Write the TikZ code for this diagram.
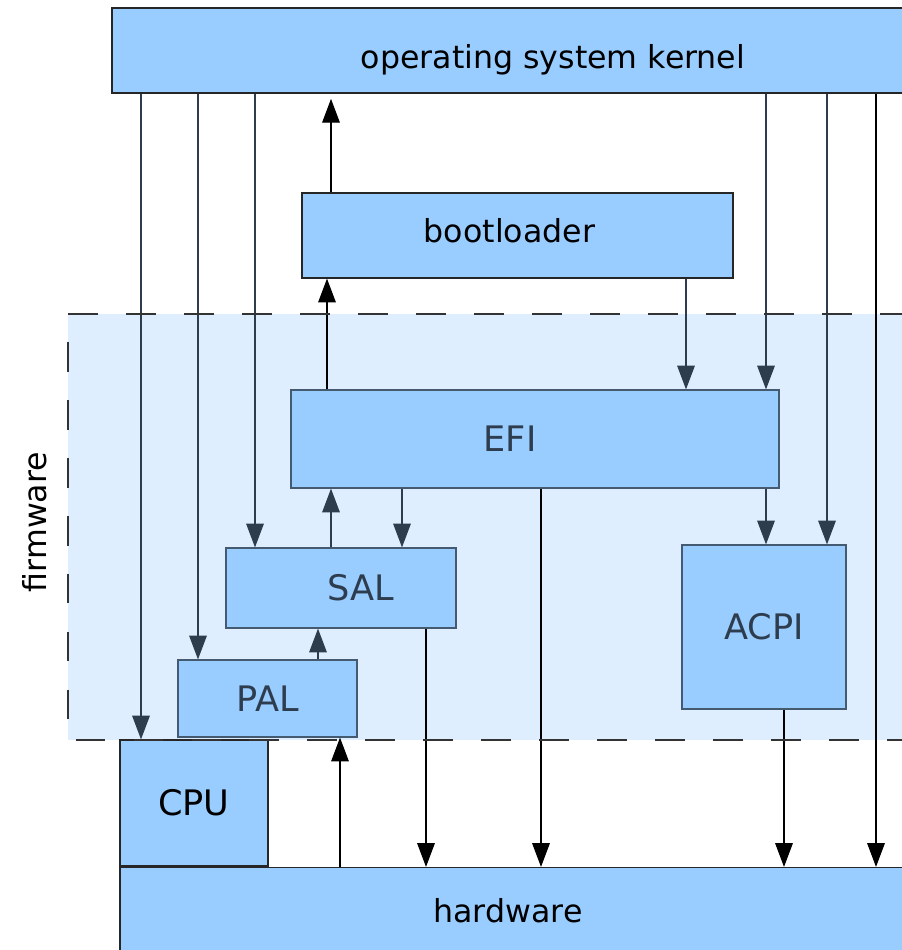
\documentclass[tikz,border=0pt]{standalone}
\usepackage{fontspec}
\setmainfont{DejaVu Sans}
\usetikzlibrary{arrows.meta}
\definecolor{bleu}{HTML}{99CCFF}
\definecolor{bleuclair}{HTML}{DFEEFF}
\definecolor{ardoise}{HTML}{2E3D4E}
\definecolor{bordfw}{HTML}{435A70}

\tikzset{bloc/.style={draw=#1,fill=bleu,line width=0.7pt,inner sep=0pt,font=\fontsize{18}{22}\selectfont},
bloc/.default={black!85},
blocfw/.style={bloc=bordfw,text=ardoise,font=\fontsize{20}{24}\selectfont},
etiq/.style={text=ardoise,font=\fontsize{20}{24}\selectfont},
etiqnoir/.style={font=\fontsize{18}{22}\selectfont},
fleche/.style={draw=#1,line width=0.65pt,-{Triangle[width=10pt,length=13.5pt]}},
fleche/.default={black}}

\begin{document}
\begin{tikzpicture}[x=0.02cm,y=-0.02cm]
\useasboundingbox (0,0) rectangle (902,950);
\clip (0,0) rectangle (902,950);
% zone du firmware
\fill[bleuclair] (68,314) rectangle (910,740);
\node[rotate=90,font=\fontsize{18}{22}\selectfont] (fw) at (35,522) {firmware};

\node[bloc,minimum width=17.64cm,minimum height=1.7cm,
	label={[etiqnoir,yshift=-0.18cm]center:operating system kernel}] (noyau) at (553,50.5) {};
\node[bloc,minimum width=8.62cm,minimum height=1.7cm,
	label={[etiqnoir,xshift=-0.16cm,yshift=0.1cm]center:bootloader}] (boot) at (517.5,235.5) {};
\node[blocfw,minimum width=9.76cm,minimum height=1.96cm,
	label={[etiq,xshift=-0.5cm]center:EFI}] (efi) at (535,439) {};
\node[blocfw,minimum width=4.6cm,minimum height=1.6cm,
	label={[etiq,xshift=0.4cm]center:SAL}] (sal) at (341,588) {};
\node[blocfw,minimum width=3.58cm,minimum height=1.54cm] (pal) at (267.5,698.5) {PAL};
\node[blocfw,minimum width=3.28cm,minimum height=3.28cm] (acpi) at (764,627) {ACPI};
\node[bloc,minimum width=2.96cm,minimum height=2.52cm,font=\fontsize{20}{24}\selectfont] (cpu) at (194,803) {CPU};
\node[bloc,minimum width=15.76cm,minimum height=1.74cm,
	label={[etiqnoir,xshift=-0.12cm]center:hardware}] (hw) at (514,911) {};

% depuis le noyau
\draw[fleche=ardoise] (141,0 |- noyau.south) -- (141,0 |- cpu.north);
\draw[fleche=ardoise] (198,0 |- noyau.south) -- (198,0 |- pal.north);
\draw[fleche=ardoise] (255,0 |- noyau.south) -- (255,0 |- sal.north);
\draw[fleche=ardoise] (766,0 |- noyau.south) -- (766,0 |- efi.north);
\draw[fleche=ardoise] (827,0 |- noyau.south) -- (827,0 |- acpi.north);
\draw[fleche] (876,0 |- noyau.south) -- (876,0 |- hw.north);
% bootloader
\draw[fleche,shorten >=3pt] (331,0 |- boot.north) -- (331,0 |- noyau.south);
\draw[fleche] (327,0 |- efi.north) -- (327,0 |- boot.south);
\draw[fleche=ardoise] (686,0 |- boot.south) -- (686,0 |- efi.north);
% EFI
\draw[fleche=ardoise] (331,0 |- sal.north) -- (331,0 |- efi.south);
\draw[fleche=ardoise] (402,0 |- efi.south) -- (402,0 |- sal.north);
\draw[fleche=ardoise] (766,0 |- efi.south) -- (766,0 |- acpi.north);
\draw[fleche] (541,0 |- efi.south) -- (541,0 |- hw.north);
% SAL, PAL, ACPI
\draw[fleche=ardoise] (318,0 |- pal.north) -- (318,0 |- sal.south);
\draw[fleche] (426,0 |- sal.south) -- (426,0 |- hw.north);
\draw[fleche] (340,0 |- hw.north) -- (340,0 |- pal.south);
\draw[fleche] (784,0 |- acpi.south) -- (784,0 |- hw.north);

% cadre
\draw[black!80,line width=0.8pt,dash pattern=on 17pt off 16pt] (910,314) -- (68,314) -- (68,740) -- (910,740);
\end{tikzpicture}
\end{document}
